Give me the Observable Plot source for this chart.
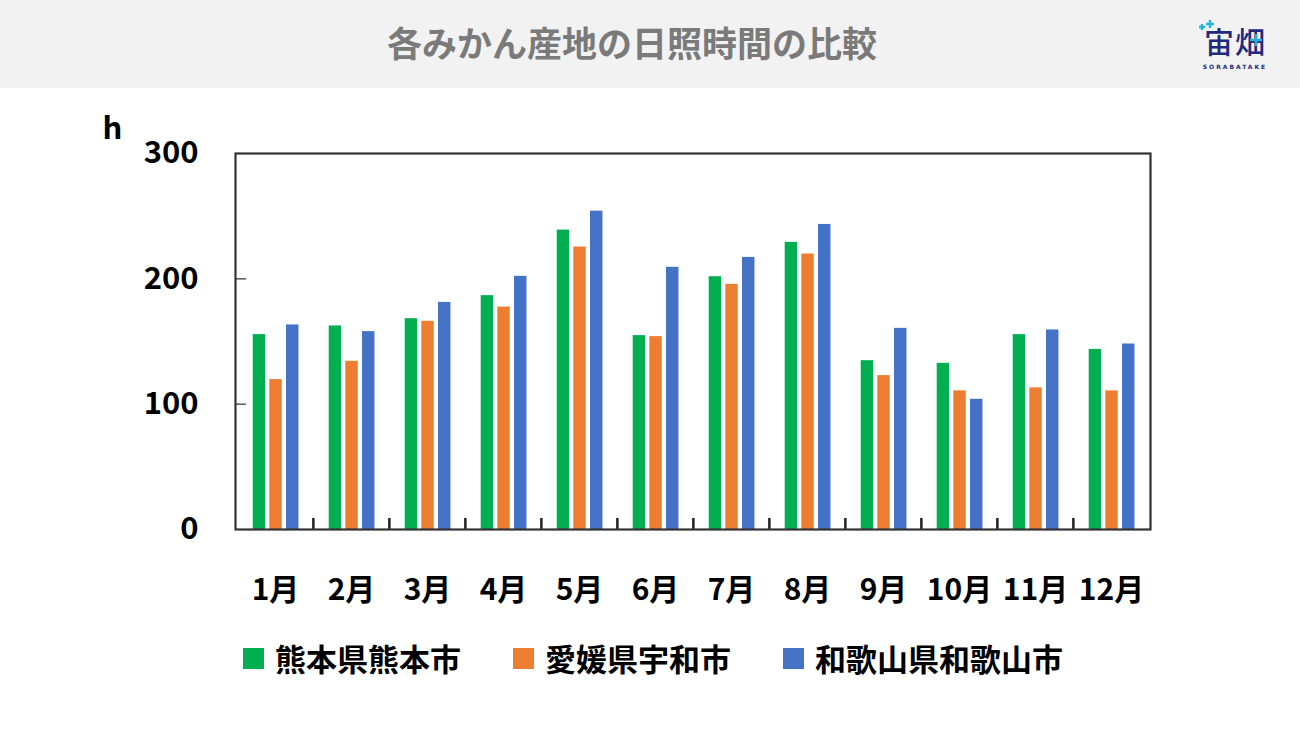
<!DOCTYPE html>
<html>
<head>
<meta charset="utf-8">
<script src="https://cdn.jsdelivr.net/npm/d3@7"></script>
<script src="https://cdn.jsdelivr.net/npm/@observablehq/plot@0.6"></script>
<style>
  html, body { margin: 0; padding: 0; background: #fff; width: 1300px; height: 731px; overflow: hidden; }
  body { font-family: "Noto Sans CJK JP", "Noto Sans", sans-serif; position: relative; }
  #header { height: 88px; background: #f2f2f2; position: relative; }
  #title { position: absolute; left: 0; width: 1264px; top: 19px; text-align: center; font-size: 35px; line-height: 46px; font-weight: 700; color: #7a7a7a; }
  #logo { position: absolute; left: 1190px; top: 20px; width: 90px; text-align: center; color: #1f2a7f; }
  #logo .kanji { font-size: 30px; line-height: 40px; font-weight: 500; letter-spacing: 1px; }
  #logo .en { font-family: "DejaVu Sans", sans-serif; font-size: 6px; font-weight: 700; letter-spacing: 2px; line-height: 8px; margin-top: 3px; }
  #logo svg { position: absolute; left: 0; top: 0; }
  #chart { height: 531px; }
  #legend { display: flex; gap: 52px; margin-left: 243px; margin-top: 19px; height: 40px; align-items: center; }
  .item { display: flex; align-items: center; font-size: 31px; font-weight: 700; color: #000; line-height: 40px; }
  .sw { width: 21px; height: 21px; margin-right: 11px; }
</style>
</head>
<body>
<div id="header">
  <div id="title"></div>
  <div id="logo">
    <svg width="90" height="50" viewBox="0 0 90 50">
      <path d="M12 4 v6 M9 7 h6 M20 0 v8 M16 4 h8 M66 14 v12 M60 20 h12" stroke="#22b4d4" stroke-width="2.4" fill="none"/>
    </svg>
    <div class="kanji">宙畑</div>
    <div class="en">SORABATAKE</div>
  </div>
</div>
<div id="chart"></div>
<div id="legend"></div>
<script>
const titleText = "各みかん産地の日照時間の比較";
const months = ["1月","2月","3月","4月","5月","6月","7月","8月","9月","10月","11月","12月"];
const seriesNames = ["熊本県熊本市", "愛媛県宇和市", "和歌山県和歌山市"];
const seriesColors = ["#00b050", "#ed7d31", "#4472c4"];
const kumamoto = [155.5, 162.4, 168.2, 186.6, 238.9, 154.7, 201.7, 229.1, 134.7, 132.6, 155.5, 143.7];
const uwa      = [119.6, 134.2, 166.1, 177.5, 225.4, 153.9, 195.6, 219.8, 122.8, 110.6, 113.0, 110.6];
const wakayama = [163.2, 157.9, 181.2, 202.0, 254.0, 209.2, 217.1, 243.4, 160.5, 103.9, 159.2, 148.0];
const yTicks = [0, 100, 200, 300];
const yUnit = "h";

document.getElementById("title").textContent = titleText;

const seriesValues = [kumamoto, uwa, wakayama];
const data = [];
seriesNames.forEach((s, i) => months.forEach((m, j) => data.push({month: m, series: s, value: seriesValues[i][j]})));

const W = 1300, H = 531, mL = 235, mR = 150, mT = 65, mB = 90;
const band = (W - mL - mR) / months.length;
const plotH = H - mT - mB;
// bar placement inside each month band (left inset, right inset)
const insets = [[15.7, band - 28.3], [32.3, band - 45.0], [49.0, band - 61.7]];

const marks = seriesNames.map((s, i) => Plot.barY(data.filter(d => d.series === s), {
  x: "month", y: "value", fill: seriesColors[i],
  insetLeft: insets[i][0], insetRight: insets[i][1]
}));

const chart = Plot.plot({
  width: W, height: H,
  marginLeft: mL, marginRight: mR, marginTop: mT, marginBottom: mB,
  style: {fontFamily: "'Noto Sans CJK JP', sans-serif", background: "transparent", color: "#000"},
  x: {domain: months, padding: 0, label: null},
  y: {domain: [0, 300], label: null},
  marks: [
    ...marks,
    Plot.ruleY(yTicks.slice(1, -1), {stroke: "#555", strokeWidth: 1.5, insetRight: (W - mL - mR) - 11}),
    Plot.ruleX(months.slice(1), {stroke: "#222", strokeWidth: 2.5, dx: -band / 2, insetTop: plotH - 11}),
    Plot.frame({stroke: "#333", strokeWidth: 2.2}),
    Plot.axisY({ticks: yTicks, tickSize: 0, tickPadding: 37, fontSize: 31, fontWeight: 700, label: null}),
    Plot.axisX({tickSize: 0, tickPadding: 49, fontSize: 30, fontWeight: 700, label: null}),
    Plot.text([yUnit], {text: d => d, frameAnchor: "top-left", dx: -133, dy: -37, fontSize: 31, fontWeight: 700, textAnchor: "start", fill: "#000"})
  ]
});
document.getElementById("chart").appendChild(chart);

const legend = document.getElementById("legend");
seriesNames.forEach((s, i) => {
  const it = document.createElement("div");
  it.className = "item";
  const sw = document.createElement("span");
  sw.className = "sw";
  sw.style.background = seriesColors[i];
  const t = document.createElement("span");
  t.textContent = s;
  it.appendChild(sw); it.appendChild(t);
  legend.appendChild(it);
});
</script>
</body>
</html>
